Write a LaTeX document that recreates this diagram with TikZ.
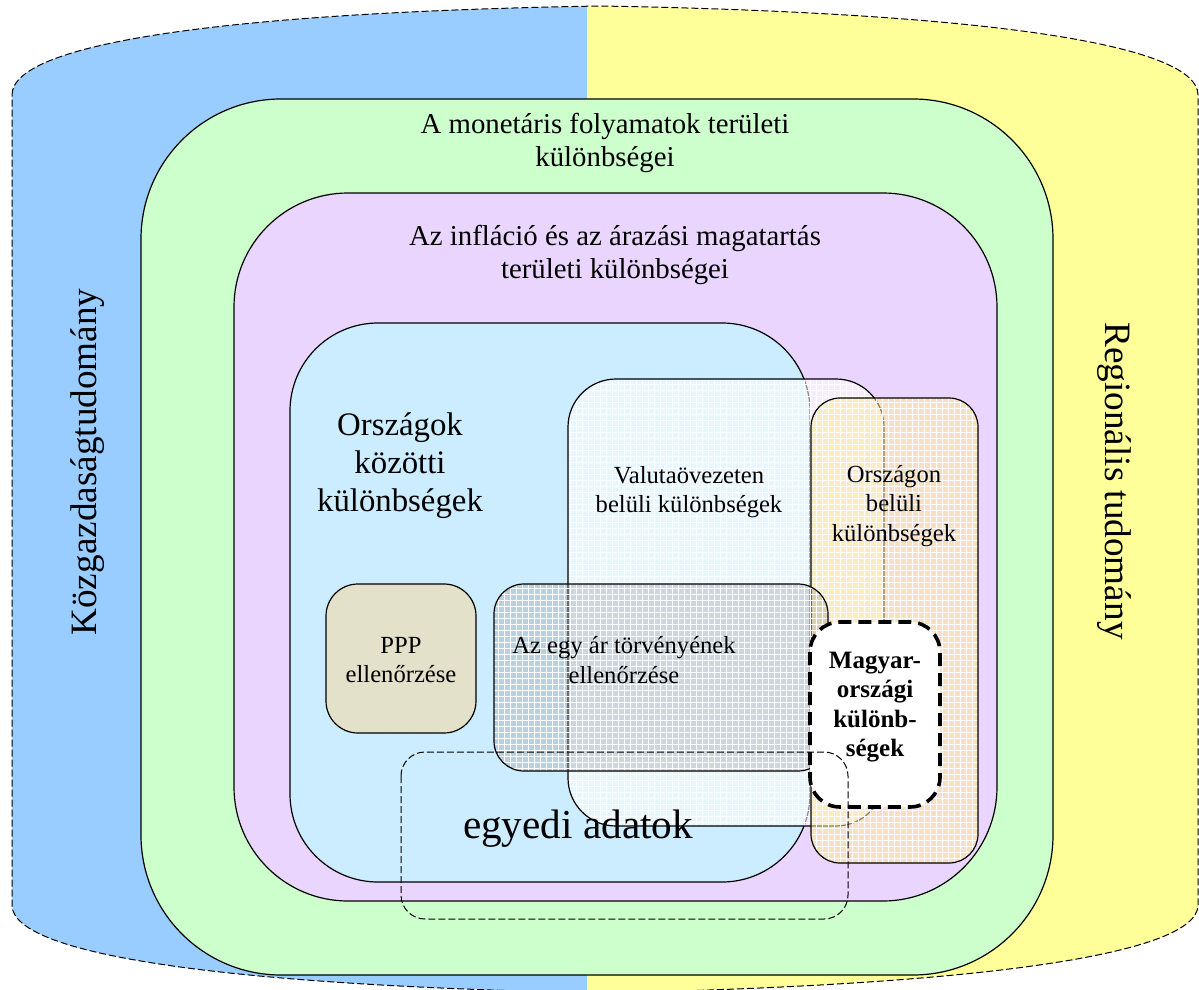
\documentclass[tikz,border=0pt]{standalone}
\usepackage{fontspec}
\setmainfont{Liberation Serif}
\usetikzlibrary{patterns}

\definecolor{econblue}{HTML}{99CCFF}
\definecolor{regyellow}{HTML}{FFFF99}
\definecolor{monetgreen}{HTML}{CCFFCC}
\definecolor{inflpurple}{HTML}{E9D5FE}
\definecolor{countryblue}{HTML}{CCECFF}
\definecolor{domestictan}{HTML}{FFEE88}
\definecolor{lopgray}{HTML}{9C9C9C}
\definecolor{pppbeige}{HTML}{E4E1CA}

\newcommand\fsTitle{\fontsize{14.4}{16.5}\selectfont}
\newcommand\fsCountry{\fontsize{16.4}{19}\selectfont}
\newcommand\fsBox{\fontsize{12.3}{14.7}\selectfont}
\newcommand\fsHu{\fontsize{12.5}{14.8}\selectfont\bfseries}
\newcommand\fsData{\fontsize{20.6}{24}\selectfont}
\newcommand\fsSide{\fontsize{18.6}{22}\selectfont}

\tikzset{
  regionbox/.style={draw=black, line width=0.6pt},
  glassbox/.style={regionbox,
    preaction={fill=#1, fill opacity=0.55},
    preaction={pattern=grid, pattern color=white, fill opacity=0.22}},
  outline/.style={draw=black, line width=0.5pt, dash pattern=on 3.5pt off 1.5pt},
  boxtext/.style={align=center, inner sep=0pt},
}

\begin{document}
\begin{tikzpicture}[x=0.5pt, y=-0.5pt]
  \useasboundingbox (0,0) rectangle (1199,990);
  \def\cylpath{(12,95) .. controls (12,40) and (250,12) .. (600,6)
    .. controls (950,12) and (1198,40) .. (1198,95) -- (1198,905)
    .. controls (1198,958) and (950,986) .. (600,993)
    .. controls (250,986) and (12,958) .. (12,905) -- cycle}
  % the two sciences
  \begin{scope}
    \clip \cylpath;
    \fill[econblue] (0,0) rectangle (587,1000);
    \fill[regyellow] (587,0) rectangle (1199,1000);
  \end{scope}
  \draw[outline] \cylpath;

  % nested frames
  \draw[regionbox, fill=monetgreen, rounded corners=70pt] (141,99) rectangle (1053,975);
  \draw[regionbox, fill=inflpurple, rounded corners=57pt] (234,193) rectangle (997,901);
  \draw[regionbox, fill=countryblue, rounded corners=44pt] (290,323) rectangle (810,882);
  \draw[glassbox=white, rounded corners=24pt] (568,379) rectangle (884,826);
  \draw[glassbox=domestictan, rounded corners=14.5pt] (811,398) rectangle (978,863);
  \draw[regionbox, fill=pppbeige, preaction={pattern=grid, pattern color=white, fill opacity=0.22},
    rounded corners=16pt] (326,584) rectangle (476,733);
  \draw[regionbox, preaction={fill=lopgray, fill opacity=0.35},
    preaction={pattern=grid, pattern color=white, fill opacity=0.22},
    rounded corners=15pt] (494,584) rectangle (828,771);
  \draw[fill=white, line width=1.8pt, dash pattern=on 6.5pt off 3.5pt,
    rounded corners=15pt] (810,622) rectangle (940,807);
  \draw[outline, rounded corners=12pt] (401,752) rectangle (848,919);

  % texts
  \node[boxtext, font=\fsSide, rotate=90] (econ) at (88,462) {Közgazdaságtudomány};
  \node[boxtext, font=\fsSide, rotate=-90] (regional) at (1114,481) {Regionális tudomány};
  \node[boxtext, font=\fsTitle] (monetary) at (605,143) {A monetáris folyamatok területi\\különbségei};
  \node[boxtext, font=\fsTitle] (inflation) at (615,255) {Az infláció és az árazási magatartás\\területi különbségei};
  \node[boxtext, font=\fsCountry] (between) at (400,466) {Országok\\közötti\\különbségek};
  \node[boxtext, font=\fsBox] (currency) at (689,492) {Valutaövezeten\\belüli különbségek};
  \node[boxtext, font=\fsBox] (within) at (894,506) {Országon\\belüli\\különbségek};
  \node[boxtext, font=\fsBox] (ppp) at (401,660) {PPP\\ellenőrzése};
  \node[boxtext, font=\fsBox] (lop) at (624,660) {Az egy ár törvényének\\ellenőrzése};
  \node[boxtext, font=\fsHu] (hungary) at (875,707) {Magyar-\\országi\\különb-\\ségek};
  \node[boxtext, font=\fsData] (micro) at (578,829) {egyedi adatok};
\end{tikzpicture}
\end{document}
